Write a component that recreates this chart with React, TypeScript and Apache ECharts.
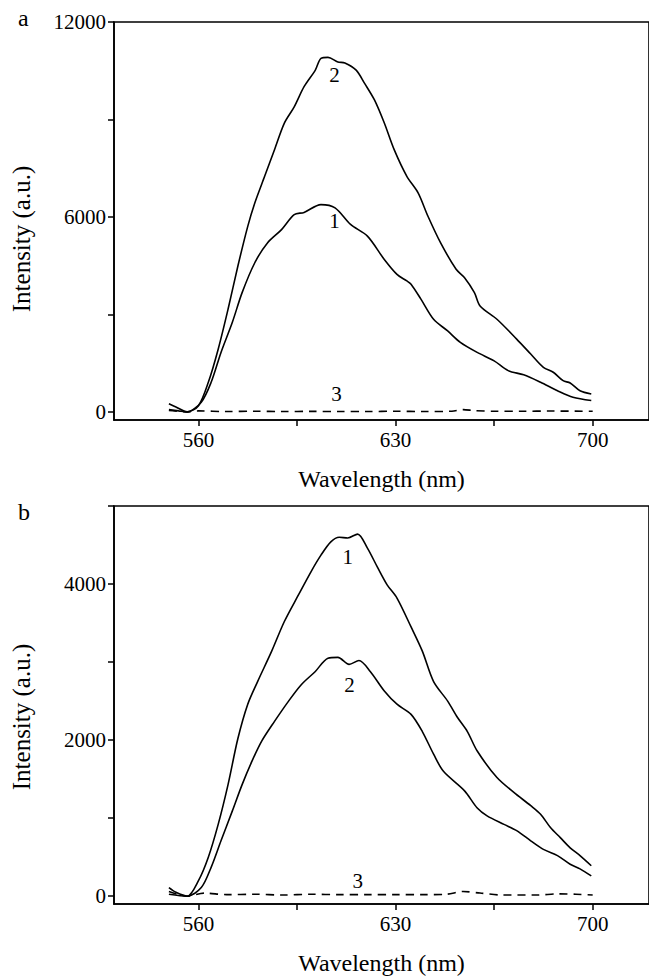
import React, { useEffect, useRef } from "react";
import * as echarts from "echarts";

const FONT = "Liberation Serif, Times New Roman, serif";

// Shared x axis (wavelength, nm)
const xLabelValues = [560, 630, 700];
const xTickValues = [560, 595, 630, 665, 700];

// Panel a tick values
const aYLabelValues = [0, 6000, 12000];
const aYTickValues = [0, 3000, 6000, 9000, 12000];
// Panel b tick values
const bYLabelValues = [0, 2000, 4000];
const bYTickValues = [0, 1000, 2000, 3000, 4000, 5000];

// Panel a curves [wavelength, intensity]
const a1 = [
  [549.5, 250], [552, 150], [556, 0], [561, 300], [564.5, 910], [568, 1830], [572, 2750],
  [575.5, 3670], [580, 4590], [584.5, 5200], [589.5, 5610], [594, 6070], [597.5, 6140],
  [603.5, 6380], [608.5, 6280], [614, 5770], [620, 5410], [626, 4690], [630.5, 4230],
  [634, 4030], [635.5, 3930], [639, 3470], [643.5, 2850], [648.5, 2490], [653, 2140],
  [659, 1830], [665, 1570], [670, 1270], [675.5, 1140], [681.5, 910], [687.5, 650],
  [693, 450], [699.5, 350],
];
const a2 = [
  [549.5, 70], [553, 30], [556, 0], [560, 190], [563.5, 910], [567, 1930], [570.5, 3160],
  [574, 4490], [577.5, 5710], [580, 6430], [583.5, 7250], [587, 8070], [590.5, 8890],
  [594, 9390], [597.5, 10010], [601.5, 10520], [603.5, 10880], [606, 10910], [609.5, 10770],
  [612, 10740], [616, 10520], [619, 10110], [622.5, 9600], [626, 8890], [629.5, 8070],
  [634, 7250], [638, 6740], [641.5, 6020], [646, 5200], [651.5, 4390], [654.5, 4130],
  [658, 3670], [660, 3260], [666, 2850], [673, 2240], [678, 1780], [682.5, 1370],
  [686, 1220], [689.5, 960], [692, 890], [695.5, 650], [699.5, 550],
];
const a3 = [
  [549.5, 40], [556, 0], [560, 30], [570, 10], [580, 20], [590, 10], [600, 15], [610, 10],
  [620, 10], [630, 20], [640, 10], [650, 20], [654, 70], [658, 40], [665, 20], [675, 20],
  [685, 25], [700, 20],
];

// Panel b curves
const b1 = [
  [549.5, 110], [552, 50], [556, 0], [560, 200], [563.5, 500], [567, 920], [570.5, 1430],
  [574, 2020], [577.5, 2460], [581, 2750], [586, 3140], [590.5, 3520], [595.5, 3860],
  [600, 4160], [603.5, 4370], [607, 4540], [610, 4600], [613, 4590], [616.5, 4640],
  [620, 4460], [623.5, 4220], [627, 3990], [630.5, 3820], [635.5, 3450], [639.5, 3140],
  [643.5, 2750], [648.5, 2500], [652, 2290], [655.5, 2110], [659, 1860], [666, 1520],
  [672, 1330], [678, 1160], [681.5, 1050], [685, 880], [688.5, 750], [692, 620],
  [695.5, 520], [699.5, 390],
];
const b2 = [
  [549.5, 25], [556, 0], [561, 110], [564.5, 370], [568, 710], [572, 1090], [575.5, 1430],
  [579, 1730], [582.5, 1990], [587, 2240], [592, 2500], [596.5, 2710], [601.5, 2880],
  [606, 3050], [609.5, 3060], [613.5, 2970], [617, 3020], [621, 2880], [626, 2630],
  [630.5, 2460], [635.5, 2330], [639.5, 2110], [643.5, 1820], [647, 1600], [654.5, 1350],
  [659, 1130], [662.5, 1030], [668.5, 920], [673, 840], [678, 710], [682.5, 600],
  [687.5, 520], [692, 410], [695.5, 350], [699.5, 260],
];
const b3 = [
  [549.5, 60], [556, 0], [562, 40], [570, 20], [580, 25], [590, 15], [600, 25], [610, 20],
  [620, 20], [630, 20], [640, 20], [648, 25], [654, 60], [660, 40], [668, 15], [680, 15],
  [688, 30], [694, 25], [700, 15],
];

// Curve number labels [wavelength, intensity]
const aLabel1 = [608.3, 5870];
const aLabel2 = [608.3, 10370];
const aLabel3 = [609, 550];
const bLabel1 = [613, 4350];
const bLabel2 = [613.6, 2710];
const bLabel3 = [616.6, 200];

const black = "#000";
const plain = (v: number) => String(v);

function xAxisFor(gridIndex: number) {
  return {
    type: "value",
    gridIndex,
    min: 530,
    max: 720,
    name: "Wavelength (nm)",
    nameLocation: "middle",
    nameGap: 47,
    nameTextStyle: { fontSize: 24, color: black, fontFamily: FONT },
    axisLine: { show: true, onZero: false, lineStyle: { color: black, width: 1.6 } },
    axisTick: { show: true, inside: false, length: 6, customValues: xTickValues, lineStyle: { color: black, width: 1.5 } },
    axisLabel: { show: true, customValues: xLabelValues, formatter: plain, fontSize: 21, color: black, fontFamily: FONT, margin: 9 },
    splitLine: { show: false },
  };
}

function yAxisFor(gridIndex: number, min: number, max: number, labels: number[], ticks: number[], shift: number) {
  return {
    type: "value",
    gridIndex,
    min,
    max,
    name: "Intensity (a.u.)",
    nameLocation: "middle",
    nameGap: 80,
    nameRotate: 90,
    nameTextStyle: { fontSize: 25, color: black, fontFamily: FONT, padding: [0, shift * 2, 0, 0] },
    axisLine: { show: true, onZero: false, lineStyle: { color: black, width: 1.6 } },
    axisTick: { show: true, inside: false, length: 6, customValues: ticks, lineStyle: { color: black, width: 1.5 } },
    axisLabel: { show: true, customValues: labels, formatter: plain, fontSize: 21, color: black, fontFamily: FONT, margin: 8 },
    splitLine: { show: false },
  };
}

function curve(data: number[][], axis: number, label: number[], text: string, dashed = false) {
  return {
    type: "line",
    xAxisIndex: axis,
    yAxisIndex: axis,
    data,
    showSymbol: false,
    symbol: "none",
    silent: true,
    smooth: 0.3,
    lineStyle: { color: black, width: 1.6, type: dashed ? [8, 6] : "solid" },
    markPoint: {
      symbol: "rect",
      symbolSize: 1,
      silent: true,
      itemStyle: { color: "rgba(0,0,0,0)" },
      label: { show: true, position: "inside", formatter: text, color: black, fontSize: 21, fontFamily: FONT },
      data: [{ coord: label }],
    },
  };
}

export default function App() {
  const ref = useRef<HTMLDivElement>(null);
  useEffect(() => {
    if (!ref.current) return;
    const chart = echarts.init(ref.current, undefined, { renderer: "svg" });
    chart.setOption({
      animation: false,
      backgroundColor: "#fff",
      textStyle: { fontFamily: FONT },
      grid: [
        { left: 114, top: 22, width: 539, height: 398, show: true, borderColor: black, borderWidth: 1.6, backgroundColor: "transparent" },
        { left: 114, top: 506, width: 539, height: 398, show: true, borderColor: black, borderWidth: 1.6, backgroundColor: "transparent" },
      ],
      xAxis: [xAxisFor(0), xAxisFor(1)],
      yAxis: [
        yAxisFor(0, -250, 12000, aYLabelValues, aYTickValues, 18),
        yAxisFor(1, -100, 5000, bYLabelValues, bYTickValues, 12),
      ],
      graphic: [
        { type: "text", left: 18, top: 6, style: { text: "a", font: `24px ${FONT}`, fill: black } },
        { type: "text", left: 18, top: 500, style: { text: "b", font: `24px ${FONT}`, fill: black } },
      ],
      series: [
        curve(a1, 0, aLabel1, "1"),
        curve(a2, 0, aLabel2, "2"),
        curve(a3, 0, aLabel3, "3", true),
        curve(b1, 1, bLabel1, "1"),
        curve(b2, 1, bLabel2, "2"),
        curve(b3, 1, bLabel3, "3", true),
      ],
    });
    return () => chart.dispose();
  }, []);
  return (
    <div
      ref={ref}
      style={{ position: "fixed", left: 0, top: 0, width: 649, height: 977, background: "#fff" }}
    />
  );
}
